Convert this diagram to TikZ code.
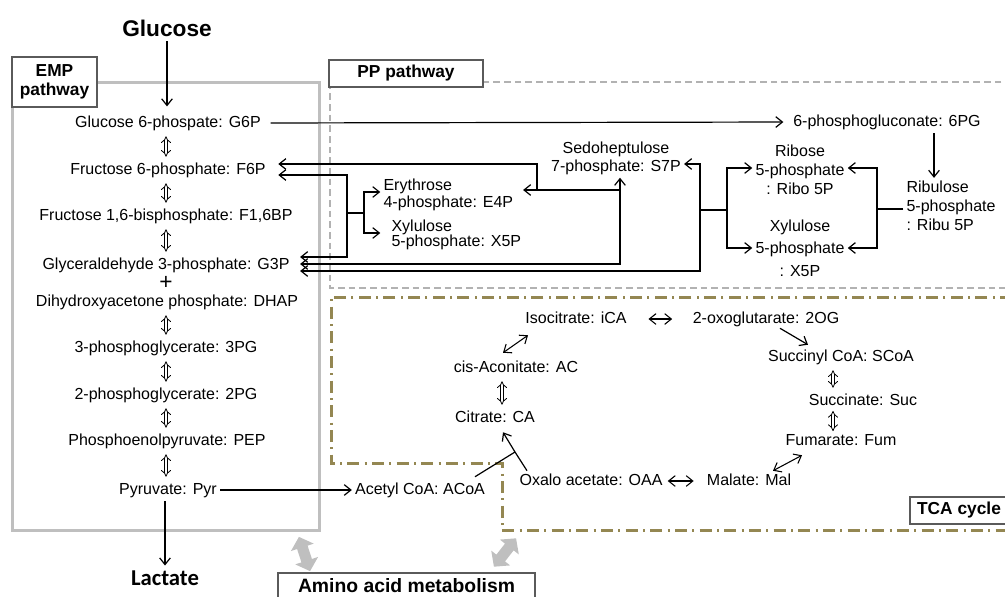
\documentclass[tikz,border=0pt]{standalone}
\usepackage{fontspec}
\setmainfont{Liberation Sans}
\newfontfamily\calibfont{Carlito}
\usetikzlibrary{arrows.meta,calc}
\definecolor{empgray}{RGB}{191,191,191}
\definecolor{ppgray}{RGB}{178,178,178}
\definecolor{tcaolive}{RGB}{148,135,82}
\definecolor{tagline}{RGB}{90,90,90}
\definecolor{aagray}{RGB}{191,191,191}

\begin{document}
\begin{tikzpicture}[x=0.75pt,y=-0.75pt,line width=0.9pt,
  >={Straight Barb[length=5pt,width=8pt]},
  lbl/.style={font=\fontsize{12}{14}\selectfont,inner sep=2pt,text height=9pt,text depth=3pt},
  lbls/.style={font=\fontsize{12}{#1}\selectfont,inner sep=2pt},
  tag/.style={draw=tagline,fill=white,line width=0.8pt,inner sep=0pt,font=\bfseries\fontsize{13}{14.5}\selectfont},
  eq/.style={double,double distance=2pt,line width=0.6pt,{Implies}-{Implies},shorten <=#1,shorten >=#1},
  eq/.default=1.5pt,
  rev/.style={<->,line width=0.8pt},
  fat/.style={fill=aagray}]
  \clip (0,0) rectangle (1005,596);
  \draw[empgray,line width=2.25pt] (12,82) rectangle (319,530);
  \draw[ppgray,line width=2pt,dash pattern=on 5pt off 3pt] (1012,82) -- (330,82) -- (330,288) -- (1012,288);
  \draw[tcaolive,line width=2.25pt,dash pattern=on 9pt off 4pt on 1.5pt off 4pt]
    (1012,297) -- (331,297) -- (331,463) -- (502,463) -- (502,530) -- (1012,530);
  \node[tag,minimum width=63.75pt,minimum height=37.5pt,align=center] (emptag) at (54.5,82) {EMP\\pathway};
  \node[tag,minimum width=115.5pt,minimum height=20.25pt] (pptag) at (406,73.5) {PP pathway};
  \node[tag,minimum width=73.5pt,minimum height=20.25pt] (tcatag) at (959,510.5) {TCA cycle};
  \node[tag,minimum width=192.75pt,minimum height=19.5pt,font=\bfseries\fontsize{14.5}{16}\selectfont] (aatag) at (406.5,586) {Amino acid metabolism};
  \foreach \c/\r in {{(304.5,554)}/-72,{(505,552.5)}/52}
    \fill[fat,shift={\c},rotate=\r] (-18,0) -- (-7,-12) -- (-7,-5.5) -- (7,-5.5) -- (7,-12) -- (18,0)
      -- (7,12) -- (7,5.5) -- (-7,5.5) -- (-7,12) -- cycle;

  \node[font=\bfseries\fontsize{17}{20}\selectfont] (glc) at (167,28) {Glucose};
  \node[lbl] (g6p) at (168,123) {Glucose 6-phospate: G6P};
  \node[lbl] (f6p) at (168,170) {Fructose 6-phosphate: F6P};
  \node[lbl] (fbp) at (166,216) {Fructose 1,6-bisphosphate: F1,6BP};
  \node[lbl] (g3p) at (166,265) {Glyceraldehyde 3-phosphate: G3P};
  \node[font=\fontsize{17}{18}\selectfont,inner sep=0pt] (plus) at (166,283) {+};
  \node[lbl] (dhap) at (167,302) {Dihydroxyacetone phosphate: DHAP};
  \node[lbl] (pg3) at (166,348) {3-phosphoglycerate: 3PG};
  \node[lbl] (pg2) at (166,395) {2-phosphoglycerate: 2PG};
  \node[lbl] (pep) at (167,441) {Phosphoenolpyruvate: PEP};
  \node[lbl] (pyr) at (168,490) {Pyruvate: Pyr};
  \node[font=\calibfont\bfseries\fontsize{17}{20}\selectfont] (lac) at (165,578) {Lactate};
  \node[lbl] (acoa) at (420,490) {Acetyl CoA: ACoA};

  \node[lbl] (pg6) at (887,122) {6-phosphogluconate: 6PG};
  \node[lbls=13.5pt,align=center] (s7p) at (616,158) {Sedoheptulose\\7-phosphate: S7P};
  \node[lbls=12.5pt,align=left,anchor=west] (e4p) at (380.3,195) {Erythrose\\4-phosphate: E4P};
  \node[lbls=11.5pt,align=left,anchor=west] (x5p) at (388.3,235) {Xylulose\\5-phosphate: X5P};
  \node[lbls=14.25pt,align=center] (ribo) at (800,170) {Ribose\\5-phosphate\\: Ribo 5P};
  \node[lbls=17pt,align=center] (xyl5) at (800,248) {Xylulose\\5-phosphate\\: X5P};
  \node[lbls=14.25pt,align=left,anchor=west] (ribu) at (903.3,206) {Ribulose\\5-phosphate\\: Ribu 5P};

  \node[lbl] (ica) at (576,319) {Isocitrate: iCA};
  \node[lbl] (ogl) at (766,319) {2-oxoglutarate: 2OG};
  \node[lbl] (scoa) at (841,357) {Succinyl CoA: SCoA};
  \node[lbl] (suc) at (863,401) {Succinate: Suc};
  \node[lbl] (fum) at (841,441) {Fumarate: Fum};
  \node[lbl] (mal) at (749,481) {Malate: Mal};
  \node[lbl] (oaa) at (591,481) {Oxalo acetate: OAA};
  \node[lbl] (cit) at (495,418) {Citrate: CA};
  \node[lbl] (cis) at (516,368) {cis-Aconitate: AC};

  \coordinate (emx) at (166,0);
  \draw[->,shorten >=4pt] (glc.south) -- (glc.south |- g6p.north);
  \foreach \a/\b in {g6p/f6p,f6p/fbp,fbp/g3p,dhap/pg3,pg3/pg2,pg2/pep,pep/pyr}
    \draw[eq] (\a.south -| emx) -- (\b.north -| emx);
  \draw[->] (lac.north |- pyr.south) -- (lac.north);
  \draw[->] (pyr.east) -- (acoa.west);
  \draw[->,shorten <=5pt,shorten >=5pt] (g6p.east) -- (pg6.west);

  \coordinate (tka) at (347,175);
  \coordinate (tkb) at (347,257);
  \coordinate (tkm) at (347,213);
  \coordinate (tkr) at (364,213);
  \coordinate (tkr1) at (364,192);
  \coordinate (tkr2) at (364,233);
  \draw[<->,shorten <=7pt,shorten >=5.5pt] (f6p.east |- tka) -- (tka) -- (tkb) -- (g3p.east |- tkb);
  \draw (tkm) -- (tkr);
  \draw[<->,shorten >=6pt] (e4p.west |- tkr1) -- (tkr1) -- (tkr2) -- (x5p.west |- tkr2);

  \coordinate (tab) at (620,264);
  \coordinate (tam) at (620,190);
  \coordinate (tal) at (537,190);
  \coordinate (tat) at (537,164);
  \draw[<->,shorten <=5.5pt] (g3p.east |- tab) -- (tab) -- (tab |- s7p.south);
  \draw[->,shorten >=5pt] (tam) -- (e4p.east |- tam);
  \draw[->,shorten >=7pt] (tal) -- (tat) -- (f6p.east |- tat);

  \coordinate (rpt) at (700,164);
  \coordinate (rpb) at (700,271);
  \coordinate (rpm) at (700,210);
  \coordinate (rpr) at (727,210);
  \coordinate (rpr1) at (727,168);
  \coordinate (rpr2) at (727,248);
  \draw[<->,shorten >=5.5pt] (s7p.east |- rpt) -- (rpt) -- (rpb) -- (g3p.east |- rpb);
  \draw (rpm) -- (rpr);
  \draw[<->] (ribo.west |- rpr1) -- (rpr1) -- (rpr2) -- (xyl5.west |- rpr2);

  \coordinate (rum) at (877,209);
  \coordinate (rut) at (877,168);
  \coordinate (rub) at (877,248);
  \coordinate (rux) at (934,0);
  \draw (ribu.west |- rum) -- (rum);
  \draw[<->] (ribo.east |- rut) -- (rut) -- (rub) -- (xyl5.east |- rub);
  \draw[->] (pg6.south -| rux) -- (rux |- ribu.north);

  \coordinate (cj) at (515,452);
  \coordinate (tcx) at (833,0);
  \coordinate (cix) at (502,0);
  \draw[rev,shorten <=14pt,shorten >=13pt] (ica) -- (ogl);
  \draw[->] ($(ogl.south)+(14,-2)$) -- ($(scoa.north)+(-33,-1)$);
  \draw[eq] (scoa.south -| tcx) -- (suc.north -| tcx);
  \draw[eq=-1pt] (suc.south -| tcx) -- (fum.north -| tcx);
  \draw[rev] ($(mal.north)+(24,1)$) -- ($(fum.south)+(-39,3)$);
  \draw[rev,shorten <=1.5pt,shorten >=7.5pt] (oaa) -- (mal);
  \draw[rev] ($(cis.north)+(-13,-4)$) -- ($(ica.south)+(-48,5)$);
  \draw[eq] (cis.south -| cix) -- (cit.north -| cix);
  \draw[->] ($(oaa.north)+(-64,1)$) -- (cj) -- ($(cit.south)+(8,3)$);
  \draw ($(acoa.north)+(55,-2)$) -- (cj);
\end{tikzpicture}
\end{document}
